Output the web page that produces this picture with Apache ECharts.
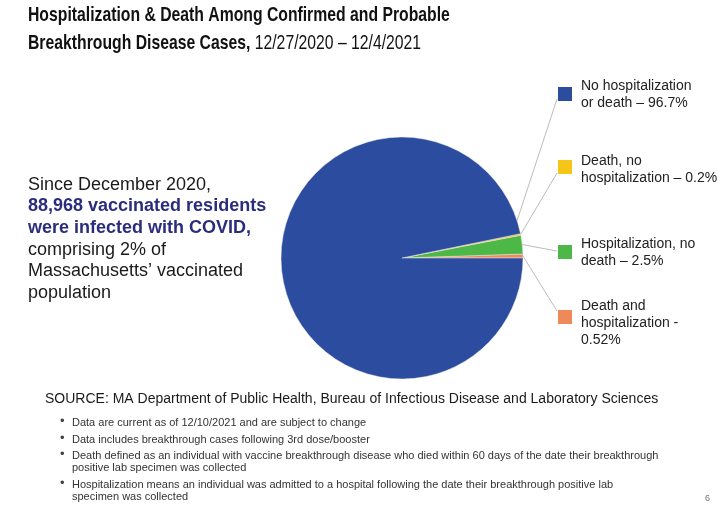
<!DOCTYPE html>
<html>
<head>
<meta charset="utf-8">
<script src="https://cdn.jsdelivr.net/npm/echarts@6/dist/echarts.min.js"></script>
<style>
  html, body { margin: 0; padding: 0; background: #fff; }
  #main { width: 720px; height: 507px; }
</style>
</head>
<body>
<div id="main"></div>
<script>
// slices, counter-clockwise from 3 o'clock
var names = ["Death and hospitalization", "Hospitalization, no death", "Death, no hospitalization", "No hospitalization or death"];
var values = [0.52, 2.5, 0.2, 96.7];
var labelHeads = ["Death and\nhospitalization -\n", "Hospitalization, no\ndeath \u2013 ", "Death, no\nhospitalization \u2013 ", "No hospitalization\nor death \u2013 "];

var infected = "88,968";
var sharePct = 2;
var notes = [
  "Data are current as of 12/10/2021 and are subject to change",
  "Data includes breakthrough cases following 3rd dose/booster",
  "Death defined as an individual with vaccine breakthrough disease who died within 60 days of the date their breakthrough\npositive lab specimen was collected",
  "Hospitalization means an individual was admitted to a hospital following the date their breakthrough positive lab\nspecimen was collected"
];

// layout
var colors = ["#ee8a5a", "#4db848", "#f5c518", "#2c4c9f"];
var pieCenter = [402, 258];
var pieRadius = 121;
var labelTop = [298, 236, 153, 78];
var squareTop = [310, 245, 160, 87];
var lineEndY = [311, 251, 173, 99];
var noteTop = [417, 434, 450, 479];

(function() {
  var myChart = echarts.init(document.getElementById("main"));
  var font = "'Liberation Sans', Arial, sans-serif";

  var graphic = [];
  // title, drawn narrow like the slide's condensed font
  graphic.push({
    type: "text", x: 28, y: 1, scaleX: 0.75,
    style: {
      text: "{b|Hospitalization & Death Among Confirmed and Probable}\n{b|Breakthrough Disease Cases,}{r| 12/27/2020 \u2013 12/4/2021}",
      verticalAlign: "top",
      rich: {
        b: { fontSize: 21, fontWeight: "bold", lineHeight: 28, fill: "#111", fontFamily: font },
        r: { fontSize: 21, fontWeight: "normal", lineHeight: 28, fill: "#111", fontFamily: font }
      }
    }
  });
  notes.forEach(function(t, i) {
    graphic.push({
      type: "text", x: 60, y: noteTop[i] - 2,
      style: { text: "\u2022", fontSize: 13, fill: "#444", fontFamily: font, verticalAlign: "top" }
    });
    graphic.push({
      type: "text", x: 72, y: noteTop[i],
      style: { text: t, fontSize: 11, lineHeight: 12, fill: "#333", fontFamily: font, verticalAlign: "top" }
    });
  });
  graphic.push({
    type: "text", x: 705, y: 494,
    style: { text: "6", fontSize: 9, fill: "#777", fontFamily: font, verticalAlign: "top" }
  });

  var option = {
    animation: false,
    backgroundColor: "#fff",
    color: colors,
    title: [
      {
        left: 28, top: 174, padding: 0,
        text: "{n|Since December 2020,}\n{b|" + infected + " vaccinated residents}\n{b|were infected with COVID,}\n{n|comprising " + sharePct + "% of}\n{n|Massachusetts\u2019 vaccinated}\n{n|population}",
        textStyle: {
          fontWeight: "normal",
          rich: {
            n: { fontSize: 18, lineHeight: 21.6, color: "#1a1a1a", fontWeight: "normal", fontFamily: font },
            b: { fontSize: 18, lineHeight: 21.6, color: "#2a2d7c", fontWeight: "bold", fontFamily: font }
          }
        }
      },
      {
        left: 45, top: 391, padding: 0,
        text: "SOURCE: MA Department of Public Health, Bureau of Infectious Disease and Laboratory Sciences",
        textStyle: { fontSize: 14, lineHeight: 17, fontWeight: "normal", color: "#1a1a1a", fontFamily: font }
      }
    ],
    legend: names.map(function(n, i) {
      return {
        data: [n],
        left: 558,
        top: squareTop[i],
        padding: 0,
        icon: "rect",
        itemWidth: 14,
        itemHeight: 14,
        selectedMode: false,
        itemStyle: { borderWidth: 0 },
        formatter: function() { return ""; }
      };
    }),
    graphic: graphic,
    series: [
      {
        type: "pie",
        center: pieCenter,
        radius: pieRadius,
        startAngle: 0,
        clockwise: false,
        emphasis: { disabled: true },
        itemStyle: { borderColor: "#e6e6e6", borderWidth: 0.5 },
        label: {
          show: true,
          position: "outside",
          fontSize: 14,
          lineHeight: 17,
          color: "#222",
          fontFamily: font,
          formatter: function(p) {
            return labelHeads[p.dataIndex] + p.value + "%";
          }
        },
        labelLine: {
          show: true,
          lineStyle: { color: "#bcbcbc", width: 1 }
        },
        labelLayout: function(p) {
          var i = p.dataIndex;
          var start = p.labelLinePoints ? p.labelLinePoints[0] : pieCenter;
          if (i === 3) {
            var a = 18 * Math.PI / 180;
            start = [pieCenter[0] + pieRadius * Math.cos(a), pieCenter[1] - pieRadius * Math.sin(a)];
          }
          return {
            x: 581,
            y: labelTop[i],
            align: "left",
            verticalAlign: "top",
            labelLinePoints: [start, [557, lineEndY[i]]]
          };
        },
        data: names.map(function(n, i) {
          return { name: n, value: values[i] };
        })
      }
    ]
  };
  myChart.setOption(option);
  window.addEventListener("resize", function() {
    myChart.resize();
  });
})();
</script>
</body>
</html>
